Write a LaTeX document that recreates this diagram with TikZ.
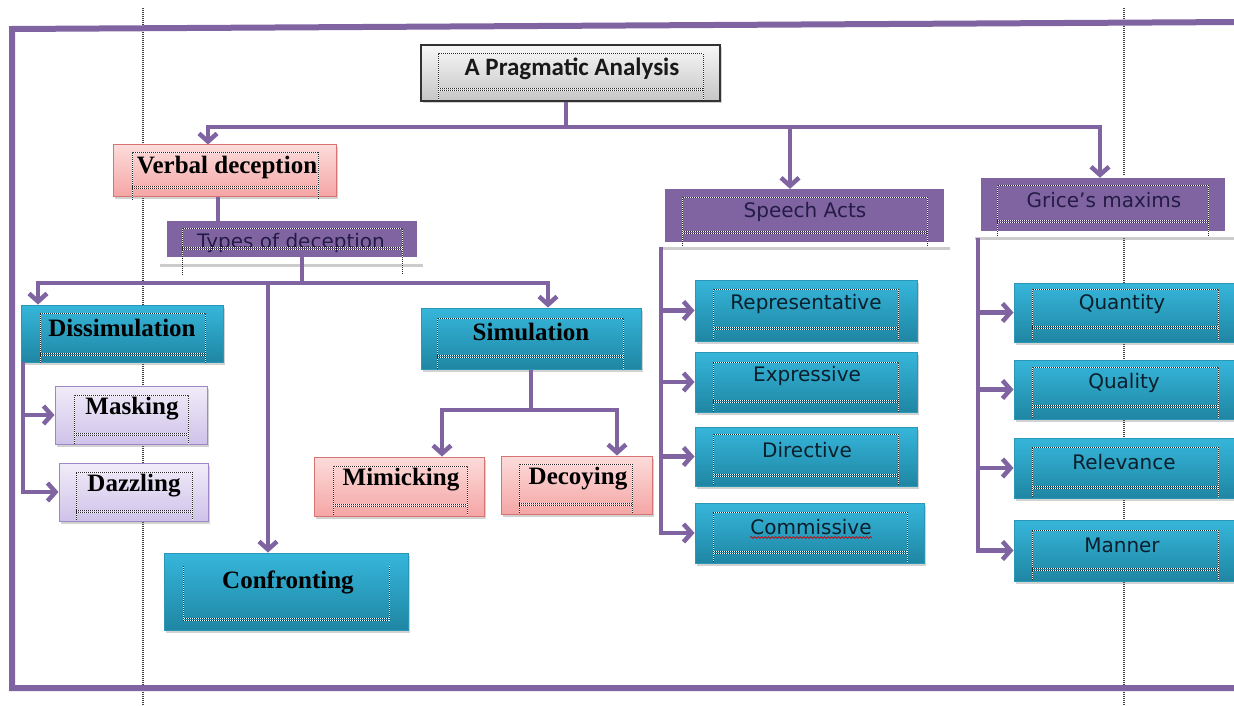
\documentclass[tikz,border=0pt]{standalone}
\usepackage{fontspec}
\setmainfont{Liberation Serif}
\newfontfamily\dvs{DejaVu Sans}
\newfontfamily\calib{Carlito}
\usetikzlibrary{arrows.meta,shadows,decorations.pathmorphing}
\definecolor{pur}{HTML}{8064A2}
\definecolor{tealT}{HTML}{36B6DB}
\definecolor{tealD}{HTML}{1F86A3}
\definecolor{tealE}{HTML}{2A97B6}
\definecolor{pinkT}{HTML}{FCDCDB}
\definecolor{pinkD}{HTML}{F4A6A5}
\definecolor{pinkE}{HTML}{D77473}
\definecolor{lavT}{HTML}{F1ECF9}
\definecolor{lavD}{HTML}{CFC2E9}
\definecolor{lavE}{HTML}{9E87C6}
\definecolor{navyT}{HTML}{0A1F2B}
\definecolor{purT}{HTML}{241C45}
\tikzset{
 guide/.style={draw=black!75, line width=1.5pt, dash pattern=on 1pt off 1pt},
 frameln/.style={draw=pur, line width=6pt, line join=miter},
 conn/.style={draw=pur, line width=4.5pt},
 arr/.style={conn, -{Straight Barb[length=8pt,width=18pt]}},
 bx/.style={rectangle, inner sep=0pt, line width=1pt, drop shadow={shadow xshift=1.5pt,shadow yshift=-2.5pt,opacity=0.35}},
 tealbox/.style={bx, draw=tealE, top color=tealT, bottom color=tealD},
 pinkbox/.style={bx, draw=pinkE, top color=pinkT, bottom color=pinkD},
 lavbox/.style={bx, draw=lavE, top color=lavT, bottom color=lavD},
 purbox/.style={rectangle, inner sep=0pt, fill=pur, draw=none},
 whiteframe/.style={rectangle, inner sep=0pt, fill=white, drop shadow={shadow xshift=0pt,shadow yshift=-2.5pt,opacity=0.4}},
 titlebox/.style={bx, draw=black!80, line width=2pt, top color=gray!6, bottom color=gray!45},
 sertxt/.style={font=\fontsize{25}{27}\selectfont\bfseries, text=black, inner sep=0pt},
 santxt/.style={font=\dvs\fontsize{20}{22}\selectfont, text=navyT, inner sep=0pt},
 purtxt/.style={font=\dvs\fontsize{20}{22}\selectfont, text=purT, inner sep=0pt},
 titletxt/.style={font=\calib\fontsize{25}{27}\selectfont\bfseries, text=black!90, inner sep=0pt},
 innerdot/.style={draw=black!85, line width=1pt, dash pattern=on 1pt off 1pt, preaction={draw=white, solid, line width=1pt}}
}
\newcommand\mkbox[6]{\node[#1, minimum width=#5-#3, minimum height=#6-#4] (#2) at ({(#3+#5)/2},{(#4+#6)/2}) {};}
\newcommand\inframe[5]{\draw[innerdot] (#1,#5) -- (#1,#2) -- (#3,#2) -- (#3,#5); \draw[innerdot] (#1,#4) -- (#3,#4); \draw[innerdot] (#1,#4-2) -- (#3,#4-2);}
\begin{document}
\begin{tikzpicture}[x=1pt,y=-1pt]
\useasboundingbox (0,0) rectangle (1234,706);
\fill[white] (0,0) rectangle (1234,706);
% guide lines
\draw[guide] (143,8) -- (143,706);
\draw[guide] (1124,8) -- (1124,706);
% outer frame
\draw[frameln] (1240,22) -- (12,29) -- (12,688) -- (1240,688);

% title
\mkbox{titlebox}{ti}{421}{45}{720}{101}
\inframe{438}{54}{703}{91}{101}
\node[titletxt] (tiT) at (572,69) {A Pragmatic Analysis};

% verbal deception
\mkbox{pinkbox}{vd}{113}{145}{336}{196}
\inframe{132}{153}{318}{188}{200}
\node[sertxt] (vdT) at (227,167) {Verbal deception};

% types of deception
\mkbox{whiteframe}{tyw}{160}{218}{423}{264}
\mkbox{purbox}{ty}{167}{221}{417}{257}
\node[purtxt] (tyT) at (291,243) {Types of deception};
\inframe{182}{228}{402}{249}{275}

% dissimulation
\mkbox{tealbox}{ds}{21}{305}{223}{362}
\inframe{40}{313}{205}{355}{363}
\node[sertxt] (dsT) at (122,328) {Dissimulation};

% masking, dazzling
\mkbox{lavbox}{mk}{55}{386}{207}{444}
\inframe{74}{395}{188}{435}{444}
\node[sertxt] (mkT) at (132,409) {Masking};
\mkbox{lavbox}{dz}{59}{463}{208}{521}
\inframe{76}{472}{192}{512}{520}
\node[sertxt] (dzT) at (134,486) {Dazzling};

% confronting
\mkbox{tealbox}{cf}{164}{553}{408}{630}
\draw[innerdot] (183,566) -- (183,620) -- (389,620) -- (389,566);
\draw[innerdot] (183,618) -- (389,618);
\node[sertxt] (cfT) at (288,582) {Confronting};

% simulation
\mkbox{tealbox}{sm}{421}{308}{641}{369}
\inframe{437}{318}{623}{357}{369}
\node[sertxt] (smT) at (531,332) {Simulation};

% mimicking, decoying
\mkbox{pinkbox}{mm}{314}{457}{484}{516}
\inframe{333}{466}{467}{506}{515}
\node[sertxt] (mmT) at (401,480) {Mimicking};
\mkbox{pinkbox}{dc}{501}{456}{652}{514}
\inframe{519}{464}{632}{505}{513}
\node[sertxt] (dcT) at (578,479) {Decoying};

% speech acts
\mkbox{whiteframe}{saw}{660}{186}{950}{247}
\mkbox{purbox}{sa}{665}{189}{944}{242}
\inframe{682}{197}{927}{233}{246}
\node[purtxt] (saT) at (805,212) {Speech Acts};

\mkbox{tealbox}{rp}{695}{280}{917}{341}
\inframe{713}{289}{898}{329}{340}
\node[santxt] (rpT) at (806,304) {Representative};
\mkbox{tealbox}{ex}{695}{352}{917}{412}
\inframe{713}{362}{898}{402}{412}
\node[santxt] (exT) at (807,376) {Expressive};
\mkbox{tealbox}{di}{695}{427}{917}{486}
\inframe{713}{434}{898}{476}{485}
\node[santxt] (diT) at (807,450) {Directive};
\mkbox{tealbox}{cm}{695}{503}{924}{563}
\inframe{713}{512}{907}{553}{562}
\node[santxt] (cmT) at (811,527) {Commissive};
\draw[red!80!black, line width=0.7pt, decorate, decoration={snake, amplitude=0.9pt, segment length=3.5pt}] ([yshift=-3pt]cmT.base west) -- ([yshift=-3pt]cmT.base east);

% grice
\mkbox{whiteframe}{gmw}{975}{175}{1240}{237}
\mkbox{purbox}{gm}{981}{178}{1225}{231}
\inframe{997}{185}{1208}{222}{236}
\node[purtxt] (gmT) at (1104,200) {Grice’s maxims};

\mkbox{tealbox}{q1}{1014}{283}{1245}{342}
\inframe{1032}{289}{1218}{328}{340}
\node[santxt] (q1T) at (1122,304) {Quantity};
\mkbox{tealbox}{q2}{1014}{360}{1245}{419}
\inframe{1032}{367}{1218}{407}{418}
\node[santxt] (q2T) at (1124,383) {Quality};
\mkbox{tealbox}{q3}{1014}{438}{1245}{498}
\inframe{1032}{447}{1218}{488}{497}
\node[santxt] (q3T) at (1124,462) {Relevance};
\mkbox{tealbox}{q4}{1014}{520}{1245}{581}
\inframe{1032}{530}{1218}{570}{580}
\node[santxt] (q4T) at (1122,545) {Manner};

% ---- connectors
\coordinate (j1) at (566,127);
\coordinate (j1L) at (208,127);
\coordinate (j1S) at (790,127);
\coordinate (j1R) at (1100,127);
\draw[conn] (ti.south -| j1) -- (j1);
\draw[arr] (j1) -| (j1L |- vd.north);
\draw[arr] (j1) -| (j1R |- gm.north);
\draw[arr] (j1S) -- (j1S |- sa.north);

\coordinate (c1) at (218,0);
\draw[conn] (vd.south -| c1) -- (ty.north -| c1);

\coordinate (j2) at (302,283);
\coordinate (j2L) at (38,283);
\coordinate (j2C) at (268,283);
\coordinate (j2R) at (548,283);
\draw[conn] (ty.south -| j2) -- (j2);
\draw[arr] (j2) -| (j2L |- ds.north);
\draw[arr] (j2) -| (j2R |- sm.north);
\draw[arr] (j2C) -- (j2C |- cf.north);

\coordinate (db) at (23,362);
\draw[arr] (db) |- (mk.west);
\draw[arr] (db) |- (dz.west);

\coordinate (j3) at (531,410);
\coordinate (j3L) at (442,410);
\coordinate (j3R) at (617,410);
\draw[conn] (sm.south -| j3) -- (j3);
\draw[arr] (j3) -| (j3L |- mm.north);
\draw[arr] (j3) -| (j3R |- dc.north);

\coordinate (sb) at (661,247);
\draw[arr] (sb) |- (rp.west);
\draw[arr] (sb) |- (ex.west);
\draw[arr] (sb) |- (di.west);
\draw[arr] (sb) |- (cm.west);

\coordinate (gb) at (978,238);
\draw[arr] (gb) |- (q1.west);
\draw[arr] (gb) |- (q2.west);
\draw[arr] (gb) |- (q3.west);
\draw[arr] (gb) |- (q4.west);
\end{tikzpicture}
\end{document}
